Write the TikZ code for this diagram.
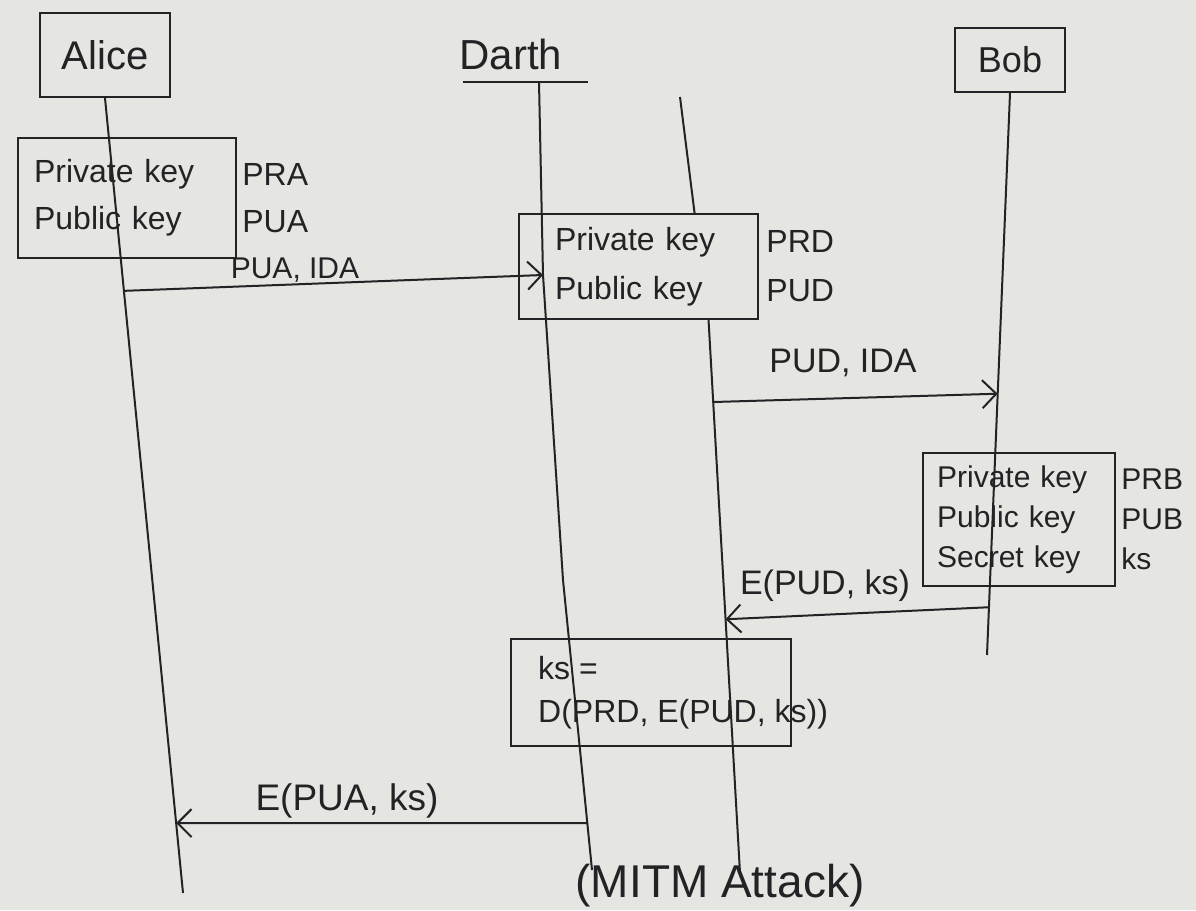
\documentclass[tikz,border=0pt]{standalone}
\usepackage{fontspec}
\setmainfont{Liberation Sans}
\usetikzlibrary{arrows.meta,calc}
\definecolor{paper}{RGB}{229,229,225}
\definecolor{ink}{RGB}{35,35,38}
\begin{document}
\begin{tikzpicture}[x=1pt,y=-1pt,
  box/.style={draw=ink, line width=2.2pt, inner sep=0pt, text=ink},
  lbl/.style={text=ink, inner sep=1pt, font=\fontsize{34}{40}\selectfont},
  keyfont/.style={font=\fontsize{32}{47}\selectfont},
  life/.style={draw=ink, line width=2pt, line join=round},
  msg/.style={draw=ink, line width=2pt, -{Straight Barb[length=14pt,width=28pt,line width=2pt]}}]
\fill[paper] (0,0) rectangle (1196,910);
\useasboundingbox (0,0) rectangle (1196,910);

% heads
\node[box, minimum width=130pt, minimum height=84pt, font=\fontsize{40}{40}\selectfont] (alice) at (105,55) {Alice};
\node[box, minimum width=110pt, minimum height=64pt, font=\fontsize{36}{36}\selectfont] (bob) at (1010,60) {Bob};
\node[lbl, font=\fontsize{42}{42}\selectfont] (darth) at (511,54) {Darth};
\coordinate (dul) at (463,82);
\coordinate (dur) at (588,82);
\draw[life] (dul) -- (dur);

% key boxes
\node[box, keyfont, anchor=north west, minimum height=120pt, text width=186pt, inner xsep=16pt, align=left] (akeys) at (17,137) {Private key\\Public key};
\node[lbl, keyfont, anchor=west, align=left] (avals) at ([xshift=4pt]akeys.east) {PRA\\PUA};

\node[box, font=\fontsize{32}{49}\selectfont, anchor=north west, minimum height=105pt, text width=167pt, inner xsep=36pt, align=left] (dkeys) at (518,213) {Private key\\Public key};
\node[lbl, font=\fontsize{32}{49}\selectfont, anchor=west, align=left] (dvals) at ([xshift=6pt]dkeys.east) {PRD\\PUD};

\node[box, font=\fontsize{30}{40}\selectfont, anchor=north west, minimum height=133pt, text width=164pt, inner xsep=14pt, align=left] (bkeys) at (922,452) {Private key\\Public key\\Secret key};
\node[lbl, font=\fontsize{30}{40}\selectfont, anchor=west, align=left] (bvals) at ([xshift=4pt]bkeys.east) {PRB\\PUB\\ks};

\node[box, anchor=north west, minimum width=280pt, minimum height=107pt] (comp) at (510,638) {};
\node[lbl, font=\fontsize{32}{43}\selectfont, anchor=west, align=left] (comptxt) at ([xshift=27pt]comp.west) {ks =\\D(PRD, E(PUD, ks))};

% lifelines
\coordinate (aBot) at (183,893);
\draw[life] (alice.south) -- (aBot);
\path (alice.south) -- (aBot) coordinate[pos=0.2425] (a1) coordinate[pos=0.912] (a2);

\coordinate (d1top) at (539,82);
\coordinate (d1a) at (543,275);
\coordinate (d1m) at (563,580);
\coordinate (d1bot) at (592,870);
\draw[life] (d1top) -- (d1a) -- (d1m) -- (d1bot);
\path (d1m) -- (d1bot) coordinate[pos=0.838] (d1b);

\coordinate (d2top) at (680,97);
\coordinate (d2a) at ($(dkeys.north west)!0.732!(dkeys.north east)$);
\draw[life] (d2top) -- (d2a);
\coordinate (d2b) at ($(dkeys.south west)!0.79!(dkeys.south east)$);
\coordinate (d2bot) at (740,873);
\draw[life] (d2b) -- (d2bot);
\path (d2b) -- (d2bot) coordinate[pos=0.148] (d2m1) coordinate[pos=0.541] (d2m2);

\coordinate (bBot) at (987,655);
\draw[life] (bob.south) -- (bBot);
\path (bob.south) -- (bBot) coordinate[pos=0.535] (b1) coordinate[pos=0.915] (b2);

% messages
\draw[msg] (a1) -- (d1a);
\draw[msg] (d2m1) -- (b1);
\draw[msg] (b2) -- (d2m2);
\draw[msg] (d1b) -- (a2);

% labels
\node[lbl, font=\fontsize{30}{36}\selectfont] (m1) at (295,270) {PUA, IDA};
\node[lbl] (m2) at (843,363) {PUD, IDA};
\node[lbl] (m3) at (825,586) {E(PUD, ks)};
\node[lbl, font=\fontsize{37}{40}\selectfont] (m4) at (347,801) {E(PUA, ks)};
\node[lbl, font=\fontsize{46}{46}\selectfont, anchor=base] (title) at (720,897) {(MITM Attack)};
\end{tikzpicture}
\end{document}
